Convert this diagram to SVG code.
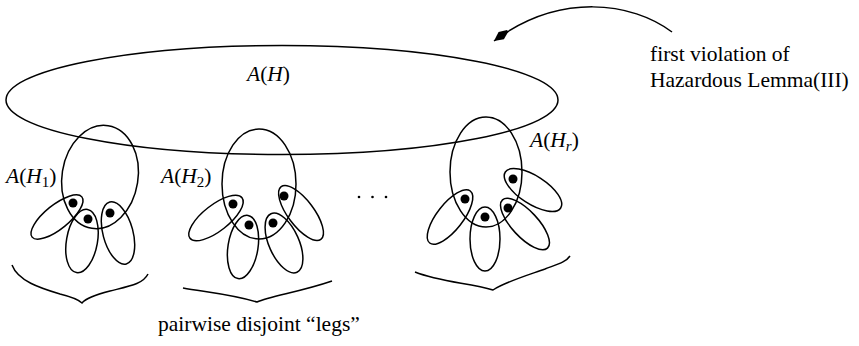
<svg xmlns="http://www.w3.org/2000/svg" width="859" height="346" viewBox="0 0 859 346">
<defs>
<style>
.ln{fill:none;stroke:#000;stroke-width:1.5}
.dot{fill:#000}
.t{font-family:'Liberation Serif','DejaVu Serif','Times New Roman',serif;font-size:21.5px;fill:#000}
.i{font-style:italic}
.sub{font-size:15px}
</style>
<marker id="ah" markerUnits="userSpaceOnUse" markerWidth="22" markerHeight="14" viewBox="-19 -7 21 14" refX="0" refY="0" orient="auto">
<path d="M0,0 L-9,-4.5 L-17,-1 L-17,1 L-9,4.5 Z" fill="#000"/>
</marker>
</defs>
<rect width="859" height="346" fill="#fff"/>

<g id="AH">
<ellipse class="ln" cx="282" cy="100" rx="276" ry="54.5"/>
<text class="t" x="247" y="81"><tspan class="i">A</tspan>(<tspan class="i">H</tspan>)</text>
</g>

<g id="H1">
<ellipse class="ln" cx="100" cy="177" rx="38" ry="52" transform="rotate(9 100 177)"/>
<ellipse class="ln" cx="57" cy="217" rx="32" ry="12" transform="rotate(-39 57 217)"/>
<ellipse class="ln" cx="82" cy="241" rx="15.5" ry="32" transform="rotate(10 82 241)"/>
<ellipse class="ln" cx="118" cy="233" rx="15" ry="32" transform="rotate(-15 118 233)"/>
<circle class="dot" cx="73" cy="203" r="4.5"/>
<circle class="dot" cx="88" cy="219" r="4.5"/>
<circle class="dot" cx="110" cy="213" r="4.5"/>
<path class="ln" d="M12,265 C18,281 40,288 60,294 C72,297 78,299 82,303 C86,298 95,295 110,291 C130,286 143,284 148,274"/>
<text class="t" x="6" y="183"><tspan class="i">A</tspan>(<tspan class="i">H</tspan><tspan class="sub" dy="4">1</tspan><tspan dy="-4">)</tspan></text>
</g>

<g id="H2">
<ellipse class="ln" cx="259" cy="184" rx="37" ry="55"/>
<ellipse class="ln" cx="216" cy="218" rx="33" ry="13" transform="rotate(-38 216 218)"/>
<ellipse class="ln" cx="243" cy="247" rx="15" ry="32" transform="rotate(9 243 247)"/>
<ellipse class="ln" cx="284" cy="243" rx="15" ry="32" transform="rotate(-24 284 243)"/>
<ellipse class="ln" cx="301" cy="213" rx="33" ry="13" transform="rotate(53 301 213)"/>
<circle class="dot" cx="233" cy="204" r="4.5"/>
<circle class="dot" cx="249" cy="225" r="4.5"/>
<circle class="dot" cx="273" cy="223" r="4.5"/>
<circle class="dot" cx="284" cy="196" r="4.5"/>
<path class="ln" d="M183,288 C205,292 230,294 257,302 C270,296 300,292 332,281"/>
<text class="t" x="161" y="183"><tspan class="i">A</tspan>(<tspan class="i">H</tspan><tspan class="sub" dy="4">2</tspan><tspan dy="-4">)</tspan></text>
</g>

<g id="ellipsis">
<circle class="dot" cx="359" cy="197" r="1.3"/>
<circle class="dot" cx="372.5" cy="197" r="1.3"/>
<circle class="dot" cx="386" cy="197" r="1.3"/>
</g>

<g id="Hr">
<ellipse class="ln" cx="486" cy="172" rx="36" ry="55"/>
<ellipse class="ln" cx="450" cy="217" rx="33" ry="13" transform="rotate(-52 450 217)"/>
<ellipse class="ln" cx="485" cy="239" rx="15" ry="32"/>
<ellipse class="ln" cx="525" cy="224" rx="33" ry="13" transform="rotate(47 525 224)"/>
<ellipse class="ln" cx="533" cy="190" rx="33" ry="14" transform="rotate(33 533 190)"/>
<circle class="dot" cx="465" cy="199" r="4.5"/>
<circle class="dot" cx="485" cy="217" r="4.5"/>
<circle class="dot" cx="508" cy="208" r="4.5"/>
<circle class="dot" cx="513" cy="179" r="4.5"/>
<path class="ln" d="M415,272 C440,282 470,283 493,290 C505,282 525,276 545,269 C558,264 566,262 570,256"/>
<text class="t" x="530" y="147"><tspan class="i">A</tspan>(<tspan class="i">H</tspan><tspan class="sub i" dy="4">r</tspan><tspan dy="-4">)</tspan></text>
</g>

<g id="note">
<text class="t" x="650" y="61">first violation of</text>
<text class="t" x="650" y="87">Hazardous Lemma(III)</text>
</g>

<g id="caption">
<text class="t" x="158" y="331">pairwise disjoint “legs”</text>
</g>

<g id="connectors">
<path class="ln" d="M672,32 C632,2 560,-8 494,41" marker-end="url(#ah)"/>
</g>
</svg>
